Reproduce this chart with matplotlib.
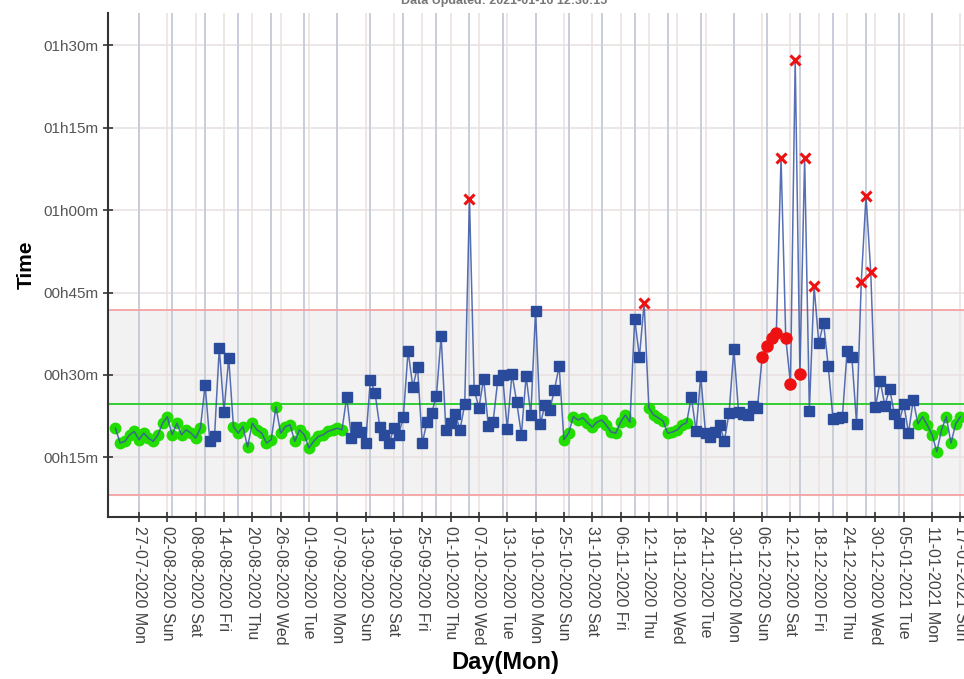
import matplotlib.pyplot as plt
import matplotlib.dates as mdates
import pandas as pd

plt.rcParams['font.family'] = ['Liberation Sans', 'DejaVu Sans']

# daily run time in minutes, starting 22-07-2020
start_date = '2020-07-22'
minutes = [
    20.3, 17.6, 17.9, 19.1, 19.7, 18.2, 19.4, 18.5, 17.9, 19.1, 21.2, 22.4, 19.1, 21.2, 19.1, 20.0, 19.4, 18.5, 20.3,
    28.2, 17.9, 18.9, 34.9, 23.3, 33.1,
    20.6, 19.4, 20.6, 16.9, 21.2, 20.0, 19.4, 17.6, 18.2, 24.2, 19.4, 20.6, 20.9, 17.9, 20.0, 19.1, 16.7, 17.9,
    18.8, 19.1, 19.7, 20.0, 20.3, 20.0,
    26.0, 18.5, 20.5, 19.6, 17.6, 29.1, 26.7, 20.5, 19.1, 17.6, 20.3, 19.1, 22.4, 34.4, 27.8, 31.5, 17.6, 21.4,
    23.1, 26.2, 37.1, 20.0, 21.3, 22.9, 20.0, 24.7, 62.1, 27.3, 24.0, 29.3, 20.7, 21.4, 29.1, 30.0, 20.2, 30.2,
    25.1, 19.1, 29.8, 22.7, 41.7, 21.1, 24.5, 23.6, 27.3, 31.6,
    18.2, 19.4, 22.4, 21.8, 22.2, 21.3, 20.5, 21.4, 21.8, 20.8, 19.6, 19.4, 21.4, 22.7, 21.4,
    40.2, 33.3, 43.1,
    24.0, 22.7, 22.2, 21.6, 19.4, 19.6, 20.0, 20.9, 21.3,
    26.0, 19.8, 29.8, 19.4, 18.7, 19.6, 20.9, 18.0, 23.1, 34.7, 23.3, 22.9, 22.7, 24.4, 24.0,
    33.3, 35.3, 36.8, 37.6, 69.5, 36.7, 28.4, 87.4, 30.2, 69.5, 23.4, 46.2,
    35.8, 39.5, 31.6, 22.0, 22.2, 22.4, 34.4, 33.3, 21.1,
    47.0, 62.6, 48.8,
    24.2, 28.9, 24.4, 27.5, 22.9, 21.3, 24.7, 19.4, 25.4,
    21.1, 22.4, 20.8, 19.1, 16.0, 20.0, 22.4, 17.6, 21.1, 22.4,
]
# g = in control, b = flagged, r = trend run, x = beyond upper limit
status = ('g' * 19 + 'b' * 6 + 'g' * 24 + 'b' * 26 + 'x' + 'b' * 19 + 'g' * 15 + 'bbx' + 'g' * 9
          + 'b' * 15 + 'rrrrxrrxrxbx' + 'b' * 9 + 'xxx' + 'b' * 9 + 'g' * 10)

mean_line = 24.75
upper_limit = 41.8
lower_limit = 8.1
y_ticks = [15, 30, 45, 60, 75, 90]
title = 'Data Updated: 2021-01-16 12:30:15'

dates = pd.date_range(start_date, periods=len(minutes), freq='D')
df = pd.DataFrame({'date': dates, 'min': minutes, 'status': list(status)})

fig = plt.figure(figsize=(9.64, 6.79), dpi=100)
ax = fig.add_axes([108 / 964, 1 - 517 / 679, (993 - 108) / 964, (517 - 13) / 679])

x0 = pd.Timestamp(start_date) - pd.Timedelta(days=1.57)
x1 = pd.Timestamp(start_date) + pd.Timedelta(days=185.9)

# control band
ax.axhspan(lower_limit, upper_limit, color='#f2f2f2', zorder=0)
ax.axhline(upper_limit, color='#f5a3a3', lw=1.3, zorder=1)
ax.axhline(lower_limit, color='#f5a3a3', lw=1.3, zorder=1)
ax.axhline(mean_line, color='#22cc22', lw=1.3, zorder=1)

# grids: tick lines and weekly (monday) lines
ticks = pd.date_range('2020-07-27', '2021-01-25', freq='6D')
mondays = pd.date_range('2020-07-20', '2021-01-25', freq='7D')
for t in ticks:
    ax.axvline(t, color='#ece2e2', lw=1.2, zorder=0.5)
for m in mondays:
    ax.axvline(m, color='#c9cdd9', lw=1.4, zorder=0.6)
for y in y_ticks:
    ax.axhline(y, color='#e9e2e2', lw=1.2, zorder=0.5)

g = df[df.status == 'g']
b = df[df.status == 'b']
r = df[df.status == 'r']
xx = df[df.status == 'x']

ax.plot(g.date, g['min'], 'o', color='#22dd00', ms=7.5, mec='#22dd00', ls='none', zorder=2)
ax.plot(df.date, df['min'], '-', color='#3a57a6', lw=1.1, alpha=0.85, zorder=3)
ax.plot(b.date, b['min'], 's', color='#2a4b9c', ms=6.5, ls='none', zorder=4)
ax.plot(r.date, r['min'], 'o', color='#ee1111', ms=8, ls='none', zorder=4)
ax.plot(xx.date, xx['min'], 'x', color='#ee1111', ms=7, mew=2.2, ls='none', zorder=4)

ax.set_xticks(ticks)
ax.xaxis.set_major_formatter(mdates.DateFormatter('%d-%m-%Y %a'))
ax.set_yticks(y_ticks)
ax.set_yticklabels(['%02dh%02dm' % (v // 60, v % 60) for v in y_ticks])
ax.set_xlim(x0, x1)
ax.set_ylim(4.13, 95.9)

for s in ['top', 'right']:
    ax.spines[s].set_visible(False)
for s in ['left', 'bottom']:
    ax.spines[s].set_color('#333333')
    ax.spines[s].set_linewidth(1.5)

ax.tick_params(axis='x', direction='inout', length=7, width=1.2, color='#333333',
               labelrotation=270, labelsize=11.5, labelcolor='#444444', pad=3)
ax.tick_params(axis='y', direction='inout', length=7, width=1.2, color='#333333',
               labelsize=11, labelcolor='#555555', pad=3)

ax.set_xlabel('Day(Mon)', fontsize=17, fontweight='bold')
ax.set_ylabel('Time', fontsize=15, fontweight='bold', labelpad=6)
ax.xaxis.set_label_coords((505 - 108) / (993 - 108), -(651 - 517) / (517 - 13))

fig.text(0.523, 0.998, title, ha='center', va='center', fontsize=9, fontweight='bold', color='#777777')

plt.savefig('out.png', dpi=100)
